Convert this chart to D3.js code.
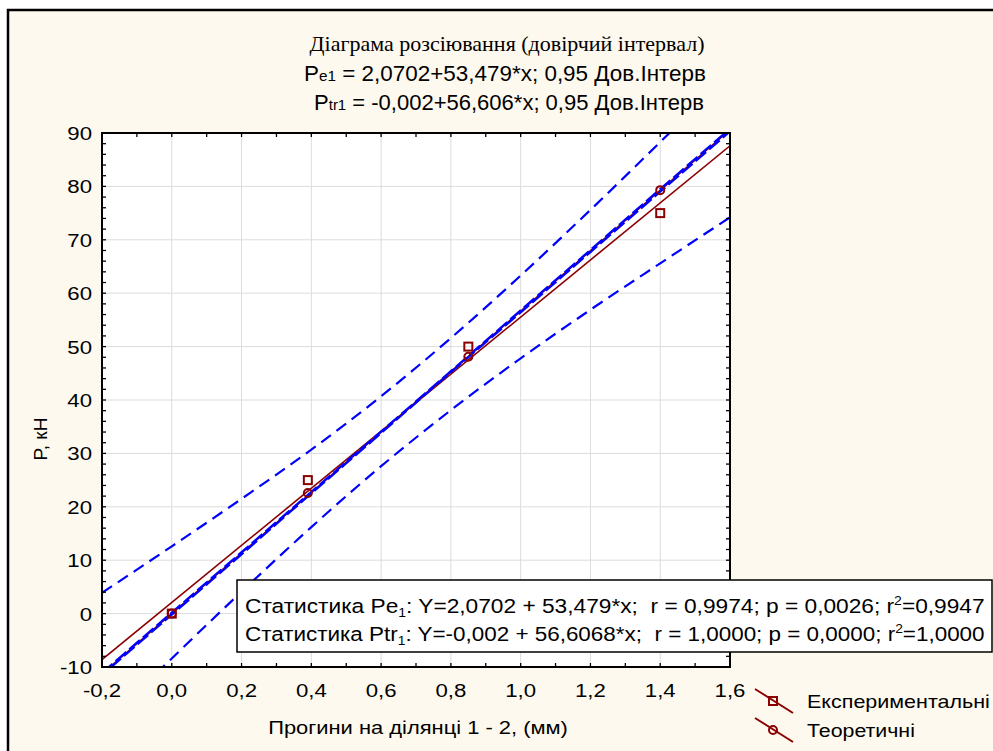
<!DOCTYPE html>
<html>
<head>
<meta charset="utf-8">
<script src="https://cdn.jsdelivr.net/npm/d3@7"></script>
<style>
  body { margin: 0; background: #fff; }
  svg { display: block; }
</style>
</head>
<body>
<svg id="plot"></svg>
<script>
// Experimental points (squares) and theoretical points (circles)
const expX = [0, 0.39, 0.85, 1.4];
const expY = [0, 25, 50, 75];
const theoX = [0, 0.39, 0.85, 1.4];
const theoY = [0, 22.6, 48.1, 79.3];

// Fitted lines, read at the plot edges
const lineX = [-0.2, 1.6];
const expLineY = [-8.6, 87.6];
const theoLineY = [-11.3, 90.6];

// 0,95 confidence bands
const bandX = [-0.2, 0, 0.2, 0.4, 0.6, 0.8, 1.0, 1.2, 1.4, 1.6];
const expUpper = [3.9, 12.6, 21.5, 30.7, 40.7, 51.6, 63.3, 75.6, 88.3, 101.1];
const expLower = [-21.2, -8.4, 4.1, 16.2, 27.6, 38.1, 47.8, 56.9, 65.6, 74.2];
const theoUpper = [-11.1, 0.2, 11.5, 22.8, 34.1, 45.4, 56.8, 68.1, 79.5, 90.8];
const theoLower = [-11.5, -0.2, 11.1, 22.5, 33.8, 45.2, 56.4, 67.7, 79.0, 90.3];

// Axis ticks
const xTicks = [-0.2, 0, 0.2, 0.4, 0.6, 0.8, 1.0, 1.2, 1.4, 1.6];
const xMinor = d3.range(-0.2, 1.6001, 0.1);
const yTicks = [-10, 0, 10, 20, 30, 40, 50, 60, 70, 80, 90];
const yMinor = d3.range(-10, 90.001, 2);

// Texts
const titleLines = ["Діаграма розсіювання (довірчий інтервал)"];
const legendLabels = ["Експериментальні", "Теоретичні"];
const statLines = [
  ["Статистика Pe", "1", ": Y=2,0702 + 53,479*x;  r = 0,9974; p = 0,0026; r", "2", "=0,9947"],
  ["Статистика Ptr", "1", ": Y=-0,002 + 56,6068*x;  r = 1,0000; p = 0,0000; r", "2", "=1,0000"]
];

const width = 993, height = 751;
const plot = {left: 102, top: 133, right: 730, bottom: 667};
const red = "#8b0000", blue = "#0000ff";
const sans = "'Liberation Sans', Arial, sans-serif";

const locale = d3.formatLocale({decimal: ",", thousands: " ", grouping: [3], currency: ["", ""], minus: "-"});
const fx = locale.format(".1f");

const svg = d3.select("#plot")
    .attr("width", width)
    .attr("height", height)
    .style("font-family", sans);

// Stretch a text horizontally around its anchor, either by a factor or to a width
function stretch(t, px, py, opt) {
  t.attr("x", 0).attr("y", 0);
  let sx = opt.scale;
  if (opt.width) sx = opt.width / t.node().getBBox().width;
  t.attr("transform", `translate(${px},${py}) scale(${sx},1)`);
  return t;
}

// Outer frame
svg.append("rect").attr("width", width).attr("height", height).attr("fill", "#fff");
svg.append("rect")
    .attr("x", 8).attr("y", 10)
    .attr("width", width + 20).attr("height", height + 20)
    .attr("fill", "#fef9ee")
    .attr("stroke", "#000").attr("stroke-width", 2.5);

const x = d3.scaleLinear().domain([-0.2, 1.6]).range([plot.left, plot.right]);
const y = d3.scaleLinear().domain([-10, 90]).range([plot.bottom, plot.top]);

// Plot background and grid
svg.append("rect")
    .attr("x", plot.left).attr("y", plot.top)
    .attr("width", plot.right - plot.left).attr("height", plot.bottom - plot.top)
    .attr("fill", "#fff");

svg.append("g").selectAll("line").data(xTicks.slice(1, -1)).join("line")
    .attr("x1", d => x(d)).attr("x2", d => x(d))
    .attr("y1", plot.top).attr("y2", plot.bottom)
    .attr("stroke", "#dcdcdc");
svg.append("g").selectAll("line").data(yTicks.slice(1, -1)).join("line")
    .attr("y1", d => y(d)).attr("y2", d => y(d))
    .attr("x1", plot.left).attr("x2", plot.right)
    .attr("stroke", "#dcdcdc");

svg.append("clipPath").attr("id", "clip")
  .append("rect")
    .attr("x", plot.left).attr("y", plot.top)
    .attr("width", plot.right - plot.left).attr("height", plot.bottom - plot.top);

const g = svg.append("g").attr("clip-path", "url(#clip)");
const line = d3.line().x(d => x(d[0])).y(d => y(d[1]));
const curve = d3.line().x(d => x(d[0])).y(d => y(d[1])).curve(d3.curveMonotoneX);

// Regression lines
g.append("path").datum(d3.zip(lineX, theoLineY)).attr("d", line)
    .attr("fill", "none").attr("stroke", red).attr("stroke-width", 1.6);
g.append("path").datum(d3.zip(lineX, expLineY)).attr("d", line)
    .attr("fill", "none").attr("stroke", red).attr("stroke-width", 1.6);

// Confidence bands
[expUpper, expLower, theoUpper, theoLower].forEach((band, i) => {
  g.append("path").datum(d3.zip(bandX, band)).attr("d", curve)
      .attr("fill", "none").attr("stroke", blue).attr("stroke-width", 2.2)
      .attr("stroke-dasharray", i < 2 ? "12,7" : "14,4")
      .attr("stroke-dashoffset", i === 3 ? 7 : 0);
});

// Points
g.selectAll(".sq").data(d3.zip(expX, expY)).join("rect")
    .attr("x", d => x(d[0]) - 4).attr("y", d => y(d[1]) - 4)
    .attr("width", 8).attr("height", 8)
    .attr("fill", "none").attr("stroke", red).attr("stroke-width", 2);
g.selectAll(".ci").data(d3.zip(theoX, theoY)).join("circle")
    .attr("cx", d => x(d[0])).attr("cy", d => y(d[1])).attr("r", 4)
    .attr("fill", "none").attr("stroke", red).attr("stroke-width", 2);

// Frame of the plot
svg.append("rect")
    .attr("x", plot.left).attr("y", plot.top)
    .attr("width", plot.right - plot.left).attr("height", plot.bottom - plot.top)
    .attr("fill", "none").attr("stroke", "#000").attr("stroke-width", 2);

// Inward ticks on all four sides
const tk = svg.append("g").attr("stroke", "#000").attr("stroke-width", 1.3);
xMinor.forEach(v => {
  tk.append("line").attr("x1", x(v)).attr("x2", x(v)).attr("y1", plot.bottom).attr("y2", plot.bottom - 4);
  tk.append("line").attr("x1", x(v)).attr("x2", x(v)).attr("y1", plot.top).attr("y2", plot.top + 4);
});
yMinor.forEach(v => {
  tk.append("line").attr("y1", y(v)).attr("y2", y(v)).attr("x1", plot.left).attr("x2", plot.left + 4);
  tk.append("line").attr("y1", y(v)).attr("y2", y(v)).attr("x1", plot.right).attr("x2", plot.right - 4);
});

// Tick labels
svg.append("g").selectAll("text").data(xTicks).join("text")
    .attr("text-anchor", "middle").attr("font-size", 18.5)
    .text(d => fx(d))
    .each(function(d) { stretch(d3.select(this), x(d), 697, {scale: 1.2}); });
svg.append("g").selectAll("text").data(yTicks).join("text")
    .attr("text-anchor", "end").attr("font-size", 18.5)
    .text(d => d)
    .each(function(d) { stretch(d3.select(this), 92, y(d) + 7, {scale: 1.2}); });

// Axis titles
stretch(svg.append("text").attr("text-anchor", "middle").attr("font-size", 18.5)
    .text("Прогини на ділянці 1 - 2, (мм)"), 418, 734, {width: 300});
svg.append("text").attr("transform", "translate(47,439) rotate(-90)")
    .attr("text-anchor", "middle").attr("font-size", 19)
    .text("P, кН");

// Title block
svg.append("text").attr("x", 507).attr("y", 51)
    .attr("text-anchor", "middle").attr("font-size", 22)
    .attr("font-family", "'Liberation Serif', 'Times New Roman', serif")
    .text(titleLines[0]);

function subLine(yPos, xMid, w, parts) {
  const t = svg.append("text").attr("text-anchor", "middle").attr("font-size", 22);
  parts.forEach(p => t.append("tspan").attr("font-size", p[1]).text(p[0]));
  stretch(t, xMid, yPos, {width: w});
}
subLine(81, 505, 402, [["P", 22], ["e1", 15], [" = 2,0702+53,479*x; 0,95 Дов.Інтерв", 22]]);
subLine(110, 509, 390, [["P", 22], ["tr1", 15], [" = -0,002+56,606*x; 0,95 Дов.Інтерв", 22]]);

// Statistics box
svg.append("rect")
    .attr("x", 237).attr("y", 580).attr("width", 755).attr("height", 72)
    .attr("fill", "#fff").attr("stroke", "#000").attr("stroke-width", 1.5);
statLines.forEach((parts, i) => {
  const t = svg.append("text").attr("font-size", 19.5).style("white-space", "pre");
  t.append("tspan").text(parts[0]);
  t.append("tspan").attr("font-size", 12).attr("dy", 4).text(parts[1]);
  t.append("tspan").attr("dy", -4).text(parts[2]);
  t.append("tspan").attr("font-size", 12).attr("dy", -8).text(parts[3]);
  t.append("tspan").attr("dy", 8).text(parts[4]);
  stretch(t, 245, 613 + i * 28, {width: 740});
});

// Legend
const leg = svg.append("g");
legendLabels.forEach((lab, i) => {
  const cy = 701 + i * 29;
  leg.append("line").attr("x1", 755).attr("y1", cy - 12).attr("x2", 793).attr("y2", cy + 12)
      .attr("stroke", red).attr("stroke-width", 2);
  if (i === 0) {
    leg.append("rect").attr("x", 769).attr("y", cy - 4).attr("width", 8).attr("height", 8)
        .attr("fill", "none").attr("stroke", red).attr("stroke-width", 2);
  } else {
    leg.append("circle").attr("cx", 773).attr("cy", cy).attr("r", 4)
        .attr("fill", "none").attr("stroke", red).attr("stroke-width", 2);
  }
  stretch(leg.append("text").attr("font-size", 19).text(lab), 807, cy + 7, {width: i === 0 ? 183 : 108});
});
</script>
</body>
</html>
